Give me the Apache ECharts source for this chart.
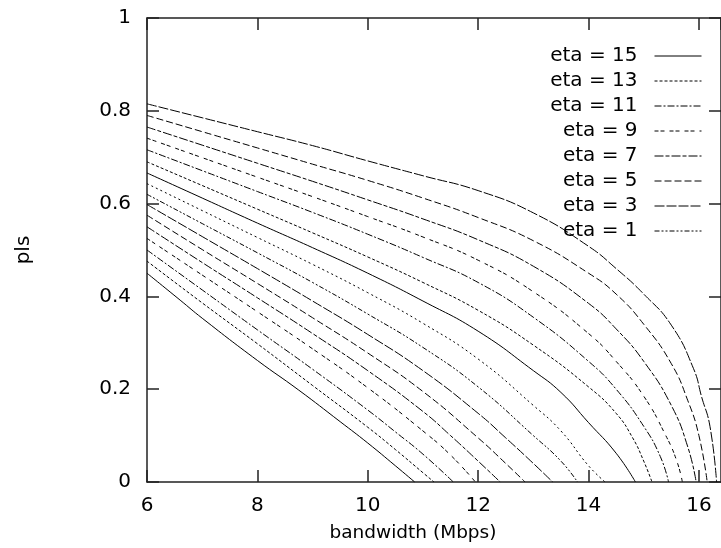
<!DOCTYPE html>
<html>
<head>
<meta charset="utf-8">
<script src="https://cdn.jsdelivr.net/npm/echarts@6/dist/echarts.min.js"></script>
<style>
html,body{margin:0;padding:0;background:#fff;}
#chart{width:721px;height:548px;}
</style>
</head>
<body>
<div id="chart"></div>
<script>
// ---- data ----
const legendNames = ['eta = 15', 'eta = 13', 'eta = 11', 'eta = 9', 'eta = 7', 'eta = 5', 'eta = 3', 'eta = 1'];
const xTickValues = [6, 8, 10, 12, 14, 16];
const yTickValues = [0, 0.2, 0.4, 0.6, 0.8, 1];

const c00 = [[6,.45],[6.6,.392],[7,.353],[8,.262],[8.75,.198],[9.5,.13],[10,.084],[10.5,.035],[10.85,0]];
const c01 = [[6,.476],[7,.386],[8,.298],[9,.208],[10,.118],[10.5,.07],[11,.02],[11.2,0]];
const c02 = [[6,.50],[7,.414],[8,.328],[9,.243],[10,.155],[10.5,.108],[11,.06],[11.55,0]];
const c03 = [[6,.525],[7,.446],[8,.367],[9,.287],[10,.203],[11,.11],[11.5,.058],[11.95,0]];
const c04 = [[6,.55],[7,.473],[8,.397],[9,.32],[10,.24],[11,.152],[11.5,.10],[12,.045],[12.4,0]];
const c05 = [[6,.575],[7,.501],[8,.428],[9,.354],[10,.278],[11,.195],[12,.095],[12.5,.04],[12.85,0]];
const c06 = [[6,.598],[7,.529],[8,.46],[9,.39],[10,.318],[11,.24],[12,.148],[12.5,.095],[13,.04],[13.35,0]];
const c07 = [[6,.62],[7,.557],[8,.494],[9,.43],[10,.362],[11,.29],[12,.205],[13,.10],[13.5,.045],[13.8,0]];
const c08 = [[6,.643],[7,.585],[8,.527],[9,.469],[10,.408],[11,.342],[12,.265],[13,.165],[13.5,.11],[14,.035],[14.3,0]];
const c09 = [[6,.666],[7,.612],[8,.558],[9,.505],[10,.45],[11,.39],[12,.325],[13,.24],[13.5,.193],[14,.128],[14.5,.062],[14.85,0]];
const c10 = [[6,.69],[7,.639],[8,.588],[9,.537],[10,.485],[11,.43],[12,.37],[13,.295],[14,.205],[14.5,.148],[14.8,.095],[15,.045],[15.15,0]];
const c11 = [[6,.716],[7,.671],[8,.626],[9,.581],[10,.534],[11,.484],[12,.43],[13,.355],[14,.26],[14.5,.2],[15,.12],[15.3,.055],[15.45,0]];
const c12 = [[6,.741],[7,.699],[8,.657],[9,.615],[10,.572],[11,.528],[12,.478],[13,.41],[14,.32],[14.5,.26],[15,.185],[15.4,.1],[15.6,.045],[15.7,0]];
const c13 = [[6,.765],[7,.726],[8,.687],[9,.648],[10,.608],[11,.567],[12,.522],[13,.465],[14,.385],[14.5,.33],[15,.26],[15.5,.165],[15.8,.075],[15.95,0]];
const c14 = [[6,.79],[7,.755],[8,.72],[9,.685],[10,.65],[11,.612],[12,.57],[13,.52],[14,.45],[14.5,.405],[15,.34],[15.5,.255],[15.8,.175],[16,.1],[16.15,0]];
const c15 = [[6,.815],[7,.785],[8,.755],[9,.725],[10,.692],[11,.66],[12,.628],[13,.58],[14,.508],[14.5,.46],[15,.405],[15.5,.338],[15.9,.245],[16.05,.183],[16.2,.12],[16.32,0]];

const curves = [c00,c01,c02,c03,c04,c05,c06,c07,c08,c09,c10,c11,c12,c13,c14,c15];

// ---- styling ----
const dashes = ['solid', [3,2], [7,2,2,2], [4,2,4,5], [9,2,4,2], [7,3], [10,2], [5,2,2,2,2,2], [2,3]];
const FONT = 'DejaVu Sans';

const series = curves.map((c, i) => ({
  name: i < legendNames.length ? legendNames[i] : ('curve ' + i),
  type: 'line',
  data: c,
  showSymbol: false,
  symbol: 'none',
  smooth: 0.5,
  animation: false,
  lineStyle: { color: '#000', width: 1, type: dashes[i % dashes.length] },
  itemStyle: { color: '#000' }
}));

const axisLineStyle = { color: '#222', width: 1.5 };
const chart = echarts.init(document.getElementById('chart'), null, { renderer: 'canvas' });
chart.setOption({
  backgroundColor: '#fff',
  animation: false,
  grid: { left: 147, top: 18, width: 579, height: 464, containLabel: false },
  legend: {
    data: legendNames,
    orient: 'vertical',
    align: 'right',
    right: 19,
    top: 46,
    padding: 0,
    itemWidth: 47,
    itemHeight: 14,
    itemGap: 5,
    itemStyle: { opacity: 0 },
    lineStyle: { width: 1 },
    textStyle: { fontFamily: FONT, fontSize: 20, color: '#000', lineHeight: 20, padding: [0, 12, 0, 0] }
  },
  xAxis: [
    {
      type: 'value', min: 6, max: 16.4, interval: 2, position: 'bottom',
      name: 'bandwidth (Mbps)', nameLocation: 'middle', nameGap: 42,
      nameTextStyle: { fontFamily: FONT, fontSize: 18.5, color: '#000', padding: [0, 42, 0, 0] },
      axisLine: { show: true, onZero: false, lineStyle: axisLineStyle },
      axisTick: { show: true, inside: true, length: 12, lineStyle: axisLineStyle },
      axisLabel: { show: true, margin: 14, fontFamily: FONT, fontSize: 20, color: '#000', showMaxLabel: false,
        formatter: v => (xTickValues.indexOf(v) >= 0 ? String(v) : '') },
      splitLine: { show: false }
    },
    {
      type: 'value', min: 6, max: 16.4, interval: 2, position: 'top',
      axisLine: { show: true, onZero: false, lineStyle: axisLineStyle },
      axisTick: { show: true, inside: true, length: 12, lineStyle: axisLineStyle },
      axisLabel: { show: false },
      splitLine: { show: false }
    }
  ],
  yAxis: [
    {
      type: 'value', min: 0, max: 1, interval: 0.2, position: 'left',
      name: 'pls', nameLocation: 'middle', nameGap: 113, nameRotate: 90,
      nameTextStyle: { fontFamily: FONT, fontSize: 20, color: '#000' },
      axisLine: { show: true, onZero: false, lineStyle: axisLineStyle },
      axisTick: { show: true, inside: true, length: 12, lineStyle: axisLineStyle },
      axisLabel: { show: true, margin: 16, fontFamily: FONT, fontSize: 20, color: '#000',
        formatter: v => (yTickValues.indexOf(+v.toFixed(1)) >= 0 ? String(+v.toFixed(1)) : '') },
      splitLine: { show: false }
    },
    {
      type: 'value', min: 0, max: 1, interval: 0.2, position: 'right',
      axisLine: { show: true, onZero: false, lineStyle: axisLineStyle },
      axisTick: { show: true, inside: true, length: 12, lineStyle: axisLineStyle },
      axisLabel: { show: false },
      splitLine: { show: false }
    }
  ],
  series: series
});
</script>
</body>
</html>
